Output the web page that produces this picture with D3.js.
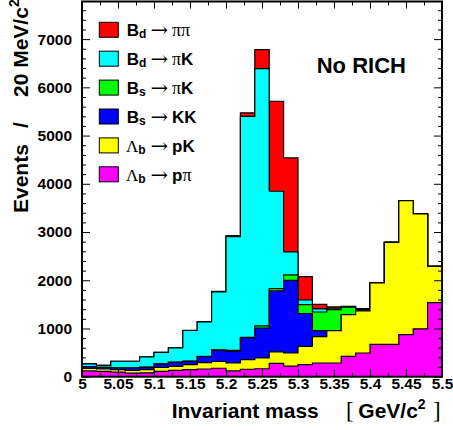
<!DOCTYPE html>
<html>
<head>
<meta charset="utf-8">
<script src="https://cdn.jsdelivr.net/npm/d3@7"></script>
<style>
  html, body { margin: 0; padding: 0; background: #fff; }
  svg { display: block; }
  text { font-family: "Liberation Sans", Arial, Helvetica, sans-serif; }
</style>
</head>
<body>
<script>
// ---- data ----
const binLow = [5.00,5.02,5.04,5.06,5.08,5.10,5.12,5.14,5.16,5.18,5.20,5.22,5.24,5.26,5.28,5.30,5.32,5.34,5.36,5.38,5.40,5.42,5.44,5.46,5.48];
const binWidth = 0.02;
const lbPPi  = [120,110,95,75,80,110,130,145,160,175,120,155,165,275,220,250,284,284,422,491,670,670,871,992,1535];
const lbPK   = [50,50,50,55,65,85,84,105,130,140,164,198,223,240,271,379,546,670,864,874,1273,2117,2780,2383,754];
const bsKK   = [40,35,35,50,50,68,83,68,125,231,241,449,622,1263,1507,681,124,0,0,0,0,0,0,0,0];
const bsPiK  = [0,0,5,5,5,5,6,7,5,9,20,13,42,48,112,184,388,436,154,30,0,0,0,0,0];
const bdPiK  = [55,40,135,135,208,237,292,633,715,1205,2360,4585,5338,2019,477,96,63,30,10,10,0,0,0,0,0];
const bdPiPi = [0,0,0,0,2,0,3,2,5,10,20,71,394,1867,1950,485,95,26,9,6,0,0,0,0,0];

const seriesKeys   = ["lbPPi","lbPK","bsKK","bsPiK","bdPiK","bdPiPi"]; // bottom -> top
const seriesColors = ["#ff00ff","#ffff00","#0000ff","#00ff00","#00ffff","#ff0000"];
const legendOrder  = ["bdPiPi","bdPiK","bsPiK","bsKK","lbPK","lbPPi"];
const legendLabels = {
  bdPiPi: {m:"B", s:"d", r:"\u03C0\u03C0"},
  bdPiK:  {m:"B", s:"d", r:"\u03C0", r2:"K"},
  bsPiK:  {m:"B", s:"s", r:"\u03C0", r2:"K"},
  bsKK:   {m:"B", s:"s", r2:"KK"},
  lbPK:   {mg:"\u039B", s:"b", r2:"pK"},
  lbPPi:  {mg:"\u039B", s:"b", r2:"p", r:"\u03C0", after:true}
};
const xMajor = [5,5.05,5.1,5.15,5.2,5.25,5.3,5.35,5.4,5.45,5.5];
const xMajorLabels = ["5","5.05","5.1","5.15","5.2","5.25","5.3","5.35","5.4","5.45","5.5"];
const xMinor = [5.025,5.075,5.125,5.175,5.225,5.275,5.325,5.375,5.425,5.475];
const yMajor = [0,1000,2000,3000,4000,5000,6000,7000];
const yMajorLabels = ["0","1000","2000","3000","4000","5000","6000","7000"];
const yMinor = d3.range(0, 7800, 200).filter(v => v % 1000 !== 0);

// ---- layout ----
const W = 453, H = 430;
const x = d3.scaleLinear().domain([5.0, 5.5]).range([82, 442]);
const y = d3.scaleLinear().domain([0, 7780]).range([376.7, 1.5]);

const svg = d3.select("body").append("svg").attr("width", W).attr("height", H);

svg.append("clipPath").attr("id","clip").append("rect")
  .attr("x", x(5.0)).attr("y", y(7780)).attr("width", x(5.5)-x(5.0)).attr("height", y(0)-y(7780));

const series = {lbPPi, lbPK, bsKK, bsPiK, bdPiK, bdPiPi};
const rows = binLow.map((b,i) => {
  const r = {x: b};
  seriesKeys.forEach(k => r[k] = series[k][i]);
  return r;
});
const stacked = d3.stack().keys(seriesKeys)(rows);

const g = svg.append("g").attr("clip-path","url(#clip)");
// ROOT-style: draw cumulative histograms from the top one down, each filled from zero
for (let li = stacked.length - 1; li >= 0; li--) {
  const layer = stacked[li];
  const pts = layer.map((d,i) => ({x: binLow[i], v: d[1]}));
  pts.push({x: binLow[binLow.length-1] + binWidth, v: layer[layer.length-1][1]});
  const area = d3.area().curve(d3.curveStepAfter)
    .x(d => x(d.x)).y0(y(0)).y1(d => y(d.v));
  g.append("path").attr("d", area(pts))
    .attr("fill", seriesColors[li]).attr("stroke", "none");
  const line = d3.line().curve(d3.curveStepAfter).x(d => x(d.x)).y(d => y(d.v));
  g.append("path").attr("d", line(pts))
    .attr("fill","none").attr("stroke","#000").attr("stroke-width",1.2);
}

// ---- axes ----
const fontTick = "bold 15.5px 'Liberation Sans', Arial, sans-serif";
function styleAxis(sel){
  sel.select(".domain").remove();
  sel.selectAll(".tick line").attr("stroke","#000").attr("stroke-width",1);
  sel.selectAll("text").style("font", fontTick).attr("fill","#000");
}
// bottom
svg.append("g").attr("transform",`translate(0,${y(0)})`)
  .call(d3.axisBottom(x).tickValues(xMajor).tickSize(-7).tickPadding(1)
        .tickFormat((d,i) => xMajorLabels[i])).call(styleAxis);
svg.append("g").attr("transform",`translate(0,${y(0)})`)
  .call(d3.axisBottom(x).tickValues(xMinor).tickSize(-4).tickFormat("")).call(styleAxis);
// top
svg.append("g").attr("transform",`translate(0,${y(7780)})`)
  .call(d3.axisTop(x).tickValues(xMajor).tickSize(-7).tickFormat("")).call(styleAxis);
svg.append("g").attr("transform",`translate(0,${y(7780)})`)
  .call(d3.axisTop(x).tickValues(xMinor).tickSize(-4).tickFormat("")).call(styleAxis);
// left
svg.append("g").attr("transform",`translate(${x(5.0)},0)`)
  .call(d3.axisLeft(y).tickValues(yMajor).tickSize(-8).tickPadding(10)
        .tickFormat((d,i) => yMajorLabels[i])).call(styleAxis);
svg.append("g").attr("transform",`translate(${x(5.0)},0)`)
  .call(d3.axisLeft(y).tickValues(yMinor).tickSize(-4).tickFormat("")).call(styleAxis);
// right
svg.append("g").attr("transform",`translate(${x(5.5)},0)`)
  .call(d3.axisRight(y).tickValues(yMajor).tickSize(-8).tickFormat("")).call(styleAxis);
svg.append("g").attr("transform",`translate(${x(5.5)},0)`)
  .call(d3.axisRight(y).tickValues(yMinor).tickSize(-4).tickFormat("")).call(styleAxis);

// frame
svg.append("rect").attr("x", x(5.0)).attr("y", y(7780))
  .attr("width", x(5.5)-x(5.0)).attr("height", y(0)-y(7780))
  .attr("fill","none").attr("stroke","#000").attr("stroke-width",2);

// ---- axis titles ----
const xt = svg.append("text").attr("y", 418.3).attr("fill","#000")
  .style("font-weight","bold").style("font-size","21px");
xt.append("tspan").attr("x", 171.7).text("Invariant mass");
xt.append("tspan").attr("x", 346).style("font-family","'Liberation Serif', serif")
  .style("font-weight","normal").style("font-size","23px").text("[");
xt.append("tspan").attr("x", 358.3).text("GeV/c");
xt.append("tspan").attr("dy", -9).style("font-size","14px").text("2");
xt.append("tspan").attr("x", 433).attr("dy", 9).style("font-family","'Liberation Serif', serif")
  .style("font-weight","normal").style("font-size","23px").text("]");

const yt = svg.append("text").attr("transform","translate(28,213) rotate(-90)")
  .attr("fill","#000").style("font-weight","bold").style("font-size","21px");
yt.append("tspan").attr("x", 0).text("Events");
yt.append("tspan").attr("x", 85).text("/");
yt.append("tspan").attr("x", 116).text("20 MeV/c");
yt.append("tspan").attr("dy", -9).style("font-size","14px").text("2");

// "No RICH"
svg.append("text").attr("x", 316.7).attr("y", 73).attr("fill","#000")
  .style("font-weight","bold").style("font-size","22px").text("No RICH");

// ---- legend ----
const leg = svg.append("g");
legendOrder.forEach((k, i) => {
  const yb = 22.3 + i * 28.9;
  const li = seriesKeys.indexOf(k);
  leg.append("rect").attr("x", 99.3).attr("y", yb).attr("width", 19).attr("height", 15)
    .attr("fill", seriesColors[li]).attr("stroke","#000").attr("stroke-width",1);
  const L = legendLabels[k];
  const t = leg.append("text").attr("y", yb + 13.7).attr("fill","#000").style("font-size","17px");
  if (L.m) t.append("tspan").attr("x", 126.7).style("font-weight","bold").text(L.m);
  if (L.mg) t.append("tspan").attr("x", 126).style("font-family","'Liberation Serif', serif").text(L.mg);
  t.append("tspan").attr("dy", 2).style("font-weight","bold").style("font-size","12px").text(L.s);
  t.append("tspan").attr("x", 150.5).attr("dy", -1).style("font-family","'DejaVu Serif', serif")
    .style("font-size","21px").text("\u2192");
  const t2y = yb + 13.7;
  if (L.after) {
    t.append("tspan").attr("x", 172).attr("y", t2y).style("font-weight","bold").text(L.r2);
    t.append("tspan").style("font-family","'Liberation Serif', serif").style("font-size","18px").text(L.r);
  } else {
    if (L.r) t.append("tspan").attr("x", 172).attr("y", t2y)
      .style("font-family","'Liberation Serif', serif").style("font-size","18px").text(L.r);
    if (L.r2) {
      const tt = t.append("tspan").attr("y", t2y).style("font-weight","bold").text(L.r2);
      if (!L.r) tt.attr("x", 172);
    }
  }
});
</script>
</body>
</html>
